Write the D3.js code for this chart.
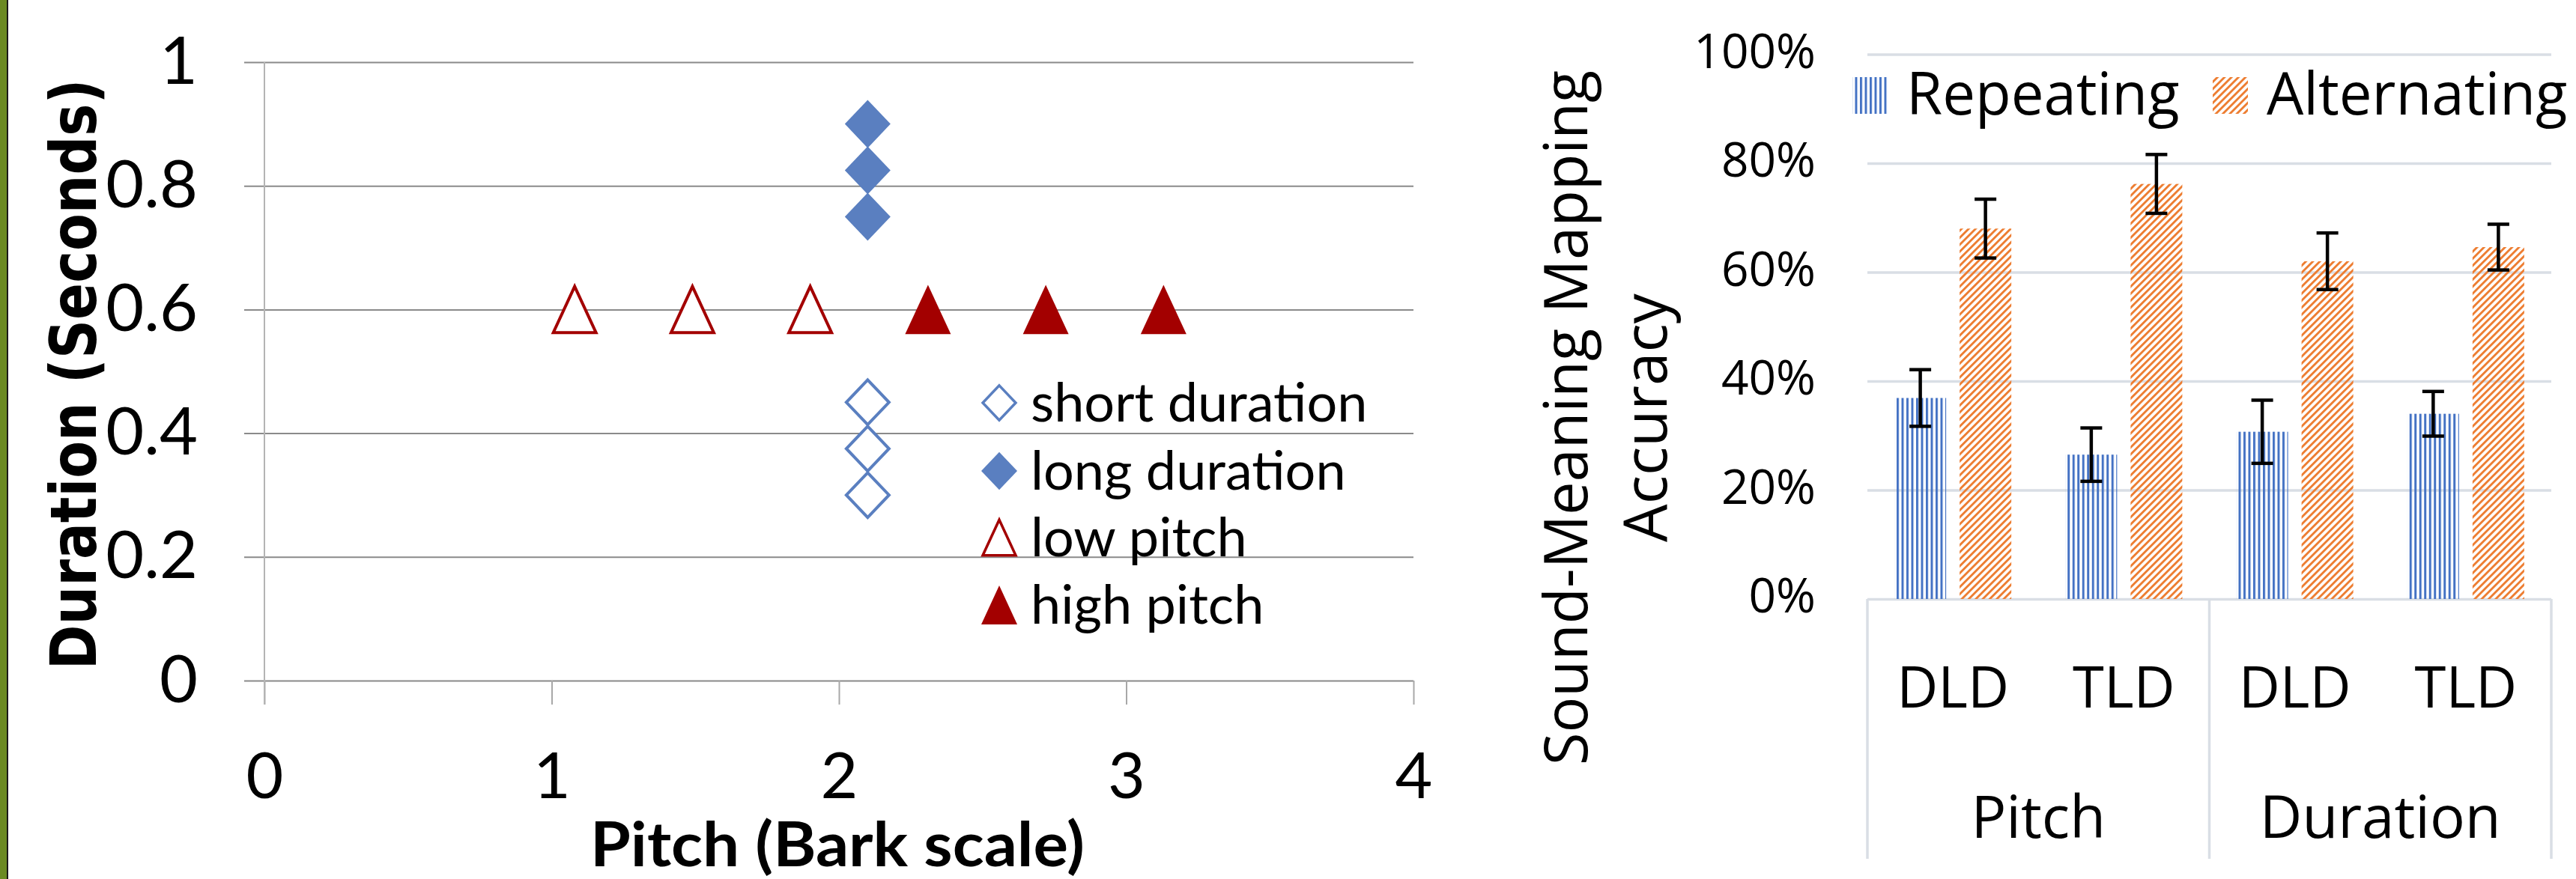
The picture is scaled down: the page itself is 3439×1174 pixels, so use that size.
<!DOCTYPE html>
<html>
<head>
<meta charset="utf-8">
<script src="https://cdn.jsdelivr.net/npm/d3@7"></script>
<style>
  body { margin: 0; background: #fff; }
  svg { display: block; }
</style>
</head>
<body>
<svg id="chart" width="3439" height="1174"></svg>
<script>
// ---- left chart: stimuli (pitch in Bark, duration in seconds) ----
let shortDuration = [[2.1, 0.45], [2.1, 0.375], [2.1, 0.3]];
let longDuration = [[2.1, 0.9], [2.1, 0.825], [2.1, 0.75]];
let lowPitch = [[1.08, 0.6], [1.49, 0.6], [1.9, 0.6]];
let highPitch = [[2.31, 0.6], [2.72, 0.6], [3.13, 0.6]];
let pitchTicks = [0, 1, 2, 3, 4];
let durationTicks = [0, 0.2, 0.4, 0.6, 0.8, 1];
let scatterLegend = ["short duration", "long duration", "low pitch", "high pitch"];

// ---- right chart: accuracy (%) ----
let dimensions = ["Pitch", "Duration"];
let tasks = ["DLD", "TLD", "DLD", "TLD"];
let seriesNames = ["Repeating", "Alternating"];
let repeating = [36.9, 26.5, 30.7, 34.0];
let repeatingErr = [5.2, 4.9, 5.8, 4.1];
let alternating = [68.0, 76.2, 62.0, 64.6];
let alternatingErr = [5.4, 5.4, 5.2, 4.2];
let accuracyTicks = [0, 20, 40, 60, 80, 100];

let svg = d3.select("#chart");

let blue = "#5a7fc0";
let red = "#a30000";

// frame on the left edge
svg.append("rect").attr("x", 0).attr("y", 0).attr("width", 9).attr("height", 1174).attr("fill", "#6b8a22");
svg.append("rect").attr("x", 9).attr("y", 0).attr("width", 2).attr("height", 1174).attr("fill", "#1a1a1a");

// custom marker shapes (size = outer width)
let diamond = {
  draw(ctx, size) {
    let w = size / 2, h = size * 1.05 / 2;
    ctx.moveTo(0, -h); ctx.lineTo(w, 0); ctx.lineTo(0, h); ctx.lineTo(-w, 0); ctx.closePath();
  }
};
let triangle = {
  draw(ctx, size) {
    let w = size / 2, h = size * 1.08 / 2;
    ctx.moveTo(0, -h); ctx.lineTo(w, h); ctx.lineTo(-w, h); ctx.closePath();
  }
};

let defs = svg.append("defs");
defs.append("pattern")
    .attr("id", "vstripes")
    .attr("patternUnits", "userSpaceOnUse")
    .attr("width", 6.5).attr("height", 10)
  .append("rect")
    .attr("width", 3).attr("height", 10)
    .attr("fill", "#4472c4");
defs.append("pattern")
    .attr("id", "dstripes")
    .attr("patternUnits", "userSpaceOnUse")
    .attr("width", 6.6).attr("height", 10)
    .attr("patternTransform", "rotate(45)")
  .append("rect")
    .attr("width", 2.9).attr("height", 10)
    .attr("fill", "#ed7d31");

drawScatter();
drawBarchart();

function drawScatter() {
  let g = svg.append("g").attr("class", "scatter");

  let xScale = d3.scaleLinear().domain([0, 4]).range([353, 1887]);
  let yScale = d3.scaleLinear().domain([0, 1]).range([909, 83]);

  // horizontal gridlines + y labels
  let yAxis = d3.axisLeft(yScale)
                .tickValues(durationTicks)
                .tickFormat(d => String(d))
                .tickSize(-(xScale.range()[1] - 326))
                .tickPadding(62);
  let yG = g.append("g").attr("transform", "translate(326, 0)").call(yAxis);
  yG.select(".domain").remove();
  yG.selectAll("line").attr("stroke", "#8a8a8a").attr("stroke-width", 2);
  yG.selectAll("text")
    .attr("font-family", "Lato, 'Liberation Sans', sans-serif")
    .attr("font-size", 88)
    .attr("fill", "#000");

  // tick marks below the axis + x labels
  let xAxis = d3.axisBottom(xScale)
                .tickValues(pitchTicks)
                .tickFormat(d => String(d))
                .tickSize(32)
                .tickPadding(64);
  let xG = g.append("g").attr("transform", "translate(0, 909)").call(xAxis);
  xG.select(".domain").remove();
  xG.selectAll("line").attr("stroke", "#a8a8a8").attr("stroke-width", 2);
  xG.selectAll("text")
    .attr("font-family", "Lato, 'Liberation Sans', sans-serif")
    .attr("font-size", 86)
    .attr("fill", "#000");

  // vertical axis line
  g.append("line")
   .attr("x1", xScale(0)).attr("x2", xScale(0))
   .attr("y1", yScale(1)).attr("y2", 941)
   .attr("stroke", "#b4b4b4").attr("stroke-width", 2);

  let series = [
    {name: scatterLegend[0], points: shortDuration, shape: diamond, color: blue, filled: false},
    {name: scatterLegend[1], points: longDuration, shape: diamond, color: blue, filled: true},
    {name: scatterLegend[2], points: lowPitch, shape: triangle, color: red, filled: false},
    {name: scatterLegend[3], points: highPitch, shape: triangle, color: red, filled: true}
  ];

  series.forEach(s => {
    let sym = d3.symbol().type(s.shape).size(s.filled ? 61 : 57);
    g.append("g")
     .selectAll("path")
     .data(s.points)
     .enter()
     .append("path")
     .attr("d", sym)
     .attr("transform", d => `translate(${xScale(d[0])}, ${yScale(d[1])})`)
     .attr("fill", s.filled ? s.color : "#fff")
     .attr("stroke", s.filled ? "none" : s.color)
     .attr("stroke-width", 4);
  });

  // legend
  let legend = g.append("g").attr("class", "legend");
  let rows = [563, 654, 743, 833];
  series.forEach((s, i) => {
    let sym = d3.symbol().type(s.shape).size(s.filled ? 48 : 44);
    legend.append("path")
          .attr("d", sym)
          .attr("transform", `translate(1334, ${rows[i] - 25})`)
          .attr("fill", s.filled ? s.color : "#fff")
          .attr("stroke", s.filled ? "none" : s.color)
          .attr("stroke-width", 3.5);
    legend.append("text")
          .attr("x", 1376).attr("y", rows[i])
          .attr("font-family", "Lato, 'Liberation Sans', sans-serif")
          .attr("font-size", 72)
          .text(s.name);
  });

  // axis titles
  g.append("text")
   .attr("transform", "translate(128, 500) rotate(-90)")
   .attr("text-anchor", "middle")
   .attr("font-family", "'DejaVu Sans', sans-serif")
   .attr("font-weight", "bold")
   .attr("font-size", 86)
   .attr("textLength", 789)
   .attr("lengthAdjust", "spacingAndGlyphs")
   .text("Duration (Seconds)");

  g.append("text")
   .attr("x", 1118).attr("y", 1157)
   .attr("text-anchor", "middle")
   .attr("font-family", "Lato, sans-serif")
   .attr("font-weight", "bold")
   .attr("font-size", 82)
   .attr("textLength", 660)
   .attr("lengthAdjust", "spacingAndGlyphs")
   .text("Pitch (Bark scale)");
}

function drawBarchart() {
  let g = svg.append("g").attr("class", "barchart");
  let left = 2493, right = 3406;
  let gridColor = "#d9dee5";

  let x0 = d3.scaleBand().domain(d3.range(tasks.length)).range([left, right]);
  let x1 = d3.scaleBand()
             .domain(seriesNames)
             .range([0, x0.bandwidth()])
             .paddingInner(0.207)
             .paddingOuter(0.415);
  let yScale = d3.scaleLinear().domain([0, 100]).range([800, 72.5]);
  let groupScale = d3.scaleBand().domain(dimensions).range([left, right]);

  let yAxis = d3.axisLeft(yScale)
                .tickValues(accuracyTicks)
                .tickFormat(d => d + "%")
                .tickSize(-(right - left))
                .tickPadding(69);
  let yG = g.append("g").attr("transform", `translate(${left}, 0)`).call(yAxis);
  yG.select(".domain").remove();
  yG.selectAll("line").attr("stroke", gridColor).attr("stroke-width", 3.5);
  yG.selectAll("text")
    .attr("font-family", "'Open Sans', sans-serif")
    .attr("font-size", 64)
    .attr("dy", "0.28em")
    .attr("fill", "#000");

  // category box lines
  let bounds = dimensions.map(d => groupScale(d)).concat([right]);
  g.append("g")
   .selectAll("line")
   .data(bounds)
   .enter()
   .append("line")
   .attr("x1", d => d).attr("x2", d => d)
   .attr("y1", yScale(0)).attr("y2", 1147)
   .attr("stroke", gridColor).attr("stroke-width", 3.5);

  let rows = tasks.map((t, i) => ({
    index: i,
    values: [
      {series: "Repeating", value: repeating[i], err: repeatingErr[i]},
      {series: "Alternating", value: alternating[i], err: alternatingErr[i]}
    ]
  }));

  let groups = g.append("g")
                .selectAll("g")
                .data(rows)
                .enter()
                .append("g")
                .attr("transform", d => `translate(${x0(d.index)}, 0)`);

  groups.selectAll("rect")
        .data(d => d.values)
        .enter()
        .append("rect")
        .attr("x", d => x1(d.series))
        .attr("y", d => yScale(d.value))
        .attr("width", x1.bandwidth())
        .attr("height", d => yScale(0) - yScale(d.value))
        .attr("fill", d => d.series === "Repeating" ? "url(#vstripes)" : "url(#dstripes)");

  // error bars
  let err = groups.selectAll(".err")
                  .data(d => d.values)
                  .enter()
                  .append("g")
                  .attr("class", "err")
                  .attr("stroke", "#000")
                  .attr("stroke-width", 4.5);
  err.append("line")
     .attr("x1", d => x1(d.series) + x1.bandwidth() / 2)
     .attr("x2", d => x1(d.series) + x1.bandwidth() / 2)
     .attr("y1", d => yScale(d.value + d.err))
     .attr("y2", d => yScale(d.value - d.err));
  err.selectAll(".cap")
     .data(d => [d.value + d.err, d.value - d.err].map(v => ({series: d.series, v: v})))
     .enter()
     .append("line")
     .attr("x1", d => x1(d.series) + x1.bandwidth() / 2 - 14.5)
     .attr("x2", d => x1(d.series) + x1.bandwidth() / 2 + 14.5)
     .attr("y1", d => yScale(d.v))
     .attr("y2", d => yScale(d.v));

  // category labels
  g.append("g")
   .selectAll("text")
   .data(tasks)
   .enter()
   .append("text")
   .attr("x", (d, i) => x0(i) + x0.bandwidth() / 2)
   .attr("y", 945)
   .attr("text-anchor", "middle")
   .attr("font-family", "'Open Sans', sans-serif")
   .attr("font-size", 76)
   .text(d => d);

  g.append("g")
   .selectAll("text")
   .data(dimensions)
   .enter()
   .append("text")
   .attr("x", d => groupScale(d) + groupScale.bandwidth() / 2)
   .attr("y", 1119)
   .attr("text-anchor", "middle")
   .attr("font-family", "'Open Sans', sans-serif")
   .attr("font-size", 78)
   .text(d => d);

  // legend
  let legendX = [2473, 2954];
  seriesNames.forEach((s, i) => {
    g.append("rect")
     .attr("x", legendX[i]).attr("y", 103)
     .attr("width", 47).attr("height", 49)
     .attr("fill", s === "Repeating" ? "url(#vstripes)" : "url(#dstripes)");
    g.append("text")
     .attr("x", legendX[i] + 72).attr("y", 153)
     .attr("font-family", "'Open Sans', sans-serif")
     .attr("font-size", 78)
     .text(s);
  });

  // y axis title (two lines)
  let title = ["Sound-Meaning Mapping", "Accuracy"];
  let titleX = [2119, 2225];
  g.append("g")
   .selectAll("text")
   .data(title)
   .enter()
   .append("text")
   .attr("transform", (d, i) => `translate(${titleX[i]}, 558) rotate(-90)`)
   .attr("text-anchor", "middle")
   .attr("font-family", "'Open Sans', sans-serif")
   .attr("font-size", 80)
   .attr("textLength", (d, i) => i === 0 ? 928 : null)
   .attr("lengthAdjust", "spacingAndGlyphs")
   .text(d => d);
}
</script>
</body>
</html>
